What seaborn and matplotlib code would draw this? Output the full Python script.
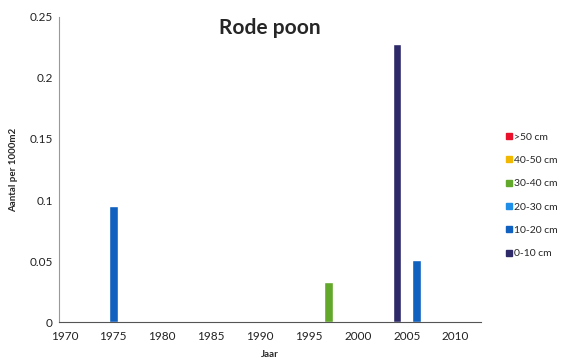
import pandas as pd
import seaborn as sns
import matplotlib.pyplot as plt
from matplotlib.lines import Line2D

sns.set_style("white")
plt.rcParams["font.family"] = ["Lato", "DejaVu Sans"]

# data
years = [1975, 1997, 2004, 2006]
values = [0.095, 0.033, 0.228, 0.051]
size_class = ["10-20 cm", "30-40 cm", "0-10 cm", "10-20 cm"]

legend_order = [">50 cm", "40-50 cm", "30-40 cm", "20-30 cm", "10-20 cm", "0-10 cm"]
colors = ["#e8102a", "#f0b800", "#62a82a", "#1e8ee6", "#1060c0", "#2e2a6a"]
palette = dict(zip(legend_order, colors))

df = pd.DataFrame({"Jaar": years, "Aantal": values, "Lengte": size_class})

fig = plt.figure(figsize=(5.74, 3.61), dpi=100)
ax = fig.add_axes([0.102, 0.107, 0.736, 0.847])

sns.barplot(
    data=df,
    x="Jaar",
    y="Aantal",
    hue="Lengte",
    hue_order=legend_order,
    palette=palette,
    saturation=1,
    native_scale=True,
    dodge=False,
    width=0.45,
    legend=False,
    ax=ax,
)

ax.set_xlim(1969.4, 2012.6)
ax.set_ylim(0, 0.25)
ax.set_xticks(range(1970, 2011, 5))
ax.set_yticks([0, 0.05, 0.1, 0.15, 0.2, 0.25])
ax.set_yticklabels(["0", "0.05", "0.1", "0.15", "0.2", "0.25"])
ax.tick_params(labelsize=8.5, length=2, width=0.6, colors="#222222", pad=4)
ax.tick_params(axis="y", length=0)

for s in ["top", "right"]:
    ax.spines[s].set_visible(False)
ax.spines["left"].set_linestyle((0, (1, 1)))
ax.spines["left"].set_color("#999999")
ax.spines["left"].set_linewidth(0.8)
ax.spines["bottom"].set_color("#555555")
ax.spines["bottom"].set_linewidth(0.8)

ax.set_xlabel("Jaar", fontsize=7, fontweight="bold", labelpad=6)
ax.set_ylabel("Aantal per 1000m2", fontsize=7, fontweight="bold", labelpad=8)
ax.text(0.5, 0.995, "Rode poon", transform=ax.transAxes, ha="center", va="top",
        fontsize=15, fontweight="bold")

handles = [Line2D([], [], marker="s", linestyle="", color=palette[k], markersize=4)
           for k in legend_order]
fig.legend(handles, legend_order, loc="upper left", bbox_to_anchor=(0.872, 0.645),
           frameon=False, fontsize=7.5, handletextpad=0.1, labelspacing=1.35,
           handlelength=0.8, borderaxespad=0)

fig.savefig("out.png", dpi=100)
